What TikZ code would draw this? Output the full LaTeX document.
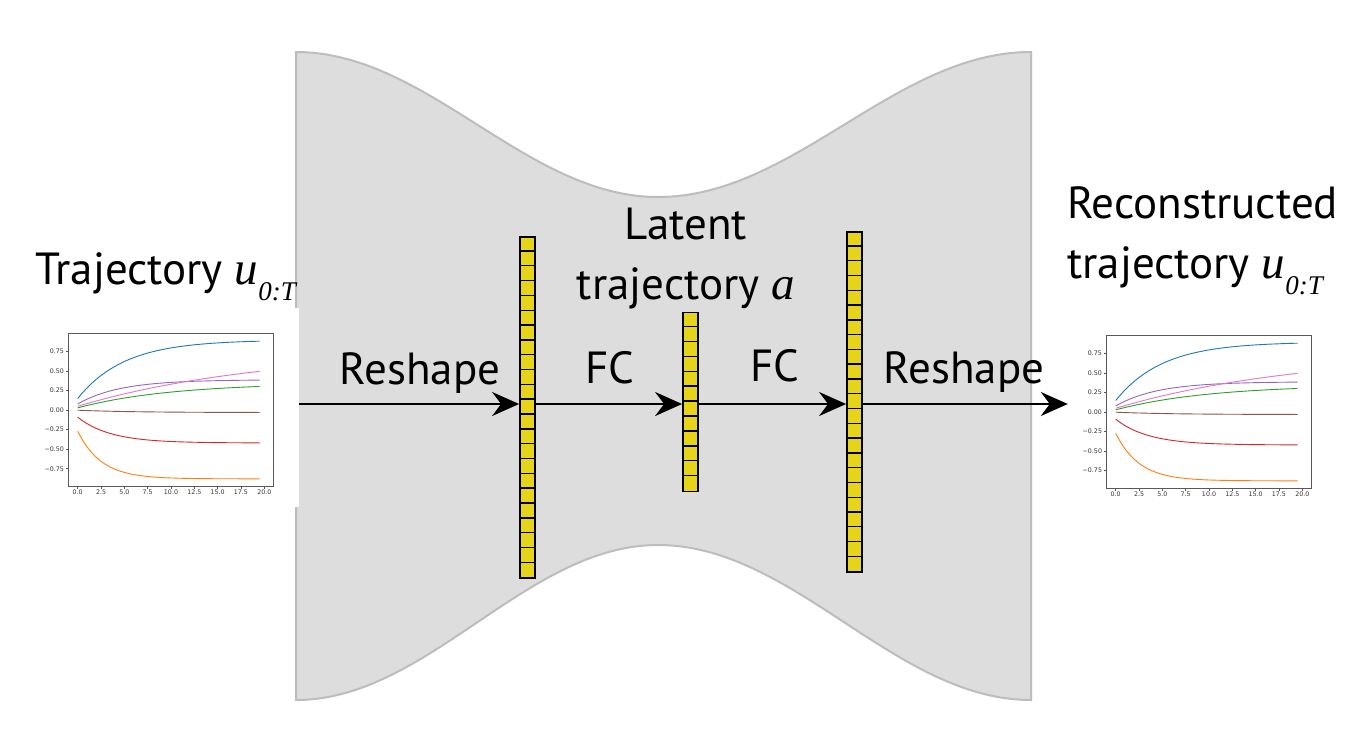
\documentclass[tikz,border=0pt]{standalone}
\usepackage{fontspec}
\setmainfont{PT Sans}
\newfontfamily\tms{Liberation Serif}
\newfontfamily\tickfont{DejaVu Sans}
\usetikzlibrary{arrows.meta}
\definecolor{shapefill}{HTML}{DDDDDD}
\definecolor{shapeedge}{HTML}{BDBDBD}
\definecolor{cellyellow}{HTML}{E5D419}
\definecolor{tabblue}{HTML}{1F77B4}
\definecolor{taborange}{HTML}{FF7F0E}
\definecolor{tabgreen}{HTML}{2CA02C}
\definecolor{tabred}{HTML}{D62728}
\definecolor{tabpurple}{HTML}{9467BD}
\definecolor{tabbrown}{HTML}{8C564B}
\definecolor{tabpink}{HTML}{E377C2}
\newcommand\bigtext{\fontsize{45}{58}\selectfont}
\newcommand\mathu[1]{{\tms\itshape\fontsize{47}{47}\selectfont #1}}
\newcommand\subT{\raisebox{-16pt}{\tms\itshape\fontsize{27}{27}\selectfont 0:T}}
\newcommand\trajplot[1]{%
  \node[plotbg] (#1) at (164.5,407.5) {};
  \draw[axisframe] (68,333) rectangle (273,486);
  \foreach \v/\l in {0.75/0.75,0.5/0.50,0.25/0.25,0/0.00,-0.25/\char"2212 0.25,-0.5/\char"2212 0.50,-0.75/\char"2212 0.75}{
    \draw[axisframe] (68,{410.2-78*\v}) -- ++(-2.5,0);
    \node[ticklabel, anchor=east] at (65,{410.2-78*\v}) {\l};
  }
  \foreach \t/\l in {0/0.0,2.5/2.5,5/5.0,7.5/7.5,10/10.0,12.5/12.5,15/15.0,17.5/17.5,20/20.0}{
    \draw[axisframe] ({77.7+9.33*\t},486) -- ++(0,2.5);
    \node[ticklabel, anchor=north] at ({77.7+9.33*\t},488.5) {\l};
  }
  \draw[curve, tabblue] plot[domain=0:19.5, samples=40] ({77.7+9.33*\x},{410.2-78*(0.9-0.75*exp(-\x/5))});
  \draw[curve, tabpurple] plot[domain=0:19.5, samples=40] ({77.7+9.33*\x},{410.2-78*(0.39-0.31*exp(-\x/4.5))});
  \draw[curve, tabpink] plot[domain=0:19.5, samples=40] ({77.7+9.33*\x},{410.2-78*(0.77-0.72*exp(-\x/20))});
  \draw[curve, tabgreen] plot[domain=0:19.5, samples=40] ({77.7+9.33*\x},{410.2-78*(0.35-0.32*exp(-\x/10))});
  \draw[curve, tabbrown] plot[domain=0:19.5, samples=40] ({77.7+9.33*\x},{410.2-78*(-0.03*(1-exp(-\x/6)))});
  \draw[curve, tabred] plot[domain=0:19.5, samples=40] ({77.7+9.33*\x},{410.2-78*(-0.42+0.33*exp(-\x/3.5))});
  \draw[curve, taborange] plot[domain=0:19.5, samples=40] ({77.7+9.33*\x},{410.2-78*(-0.88+0.61*exp(-\x/2.5))});
}
\begin{document}
\begin{tikzpicture}[x=1pt,y=-1pt,
  plotbg/.style={inner sep=0pt, minimum width=269pt, minimum height=199pt, fill=white, draw=none},
  axisframe/.style={draw=black!65, line width=0.7pt},
  ticklabel/.style={inner sep=0.8pt, font=\tickfont\fontsize{6.3}{6.3}\selectfont, text=black!80},
  curve/.style={line width=0.9pt},
  col/.style={draw=black, line width=1.8pt, fill=cellyellow, minimum width=15pt, inner sep=0pt},
  cellline/.style={draw=black, line width=1.4pt},
  arr/.style={-{Stealth[length=27pt,width=24pt,inset=9pt]}, line width=2pt, black},
  lbl/.style={font=\bigtext, inner sep=0pt}]
\useasboundingbox (0,0) rectangle (1361,750);
\fill[white] (0,0) rectangle (1361,750);
% hourglass body
\draw[shapeedge, fill=shapefill, line width=2pt]
  (296,52) .. controls (428,52) and (526,197) .. (658,197)
  .. controls (794,197) and (895,52) .. (1031,52) -- (1031,700)
  .. controls (895,700) and (794,545) .. (658,545)
  .. controls (526,545) and (428,700) .. (296,700) -- cycle;
% plots
\begin{scope}
  \trajplot{plotL}
\end{scope}
\begin{scope}[shift={(1038,2)}]
  \trajplot{plotR}
\end{scope}
% columns
\node[col, minimum height=341pt] (c1) at (527.5,407.5) {};
\foreach \i in {1,...,22} \draw[cellline] ([yshift=-\i*14.826pt]c1.north west) -- ++(15,0);
\node[col, minimum height=179pt] (c2) at (690.5,402) {};
\foreach \i in {1,...,11} \draw[cellline] ([yshift=-\i*14.917pt]c2.north west) -- ++(15,0);
\node[col, minimum height=340pt] (c3) at (854.5,402) {};
\foreach \i in {1,...,22} \draw[cellline] ([yshift=-\i*14.783pt]c3.north west) -- ++(15,0);
\node[col, minimum height=341pt, fill=none] at (c1) {};
\node[col, minimum height=179pt, fill=none] at (c2) {};
\node[col, minimum height=340pt, fill=none] at (c3) {};
% arrows
\coordinate (ay) at (0,404);
\draw[arr] (plotL.east |- ay) -- (c1.west |- ay);
\draw[arr] (c1.east |- ay) -- (c2.west |- ay);
\draw[arr] (c2.east |- ay) -- (c3.west |- ay);
\draw[arr] (c3.east |- ay) -- (plotR.west |- ay);
% labels
\node[lbl, anchor=base] (r1) at (420,384) {Reshape};
\node[lbl, anchor=base] (f1) at (610,383) {FC};
\node[lbl, anchor=base] (f2) at (775,381) {FC};
\node[lbl, anchor=base] (r2) at (964,383) {Reshape};
\node[lbl, anchor=base west] (tL) at (35,284) {Trajectory \mathu{u}\subT};
\node[lbl, anchor=base] (lat1) at (686,239) {Latent};
\node[lbl, anchor=base] (lat2) at (686,299) {trajectory \mathu{a}};
\node[lbl, anchor=base west] (rc1) at (1067,218) {Reconstructed};
\node[lbl, anchor=base west] (rc2) at (1067,278) {trajectory \mathu{u}\subT};
\end{tikzpicture}
\end{document}
